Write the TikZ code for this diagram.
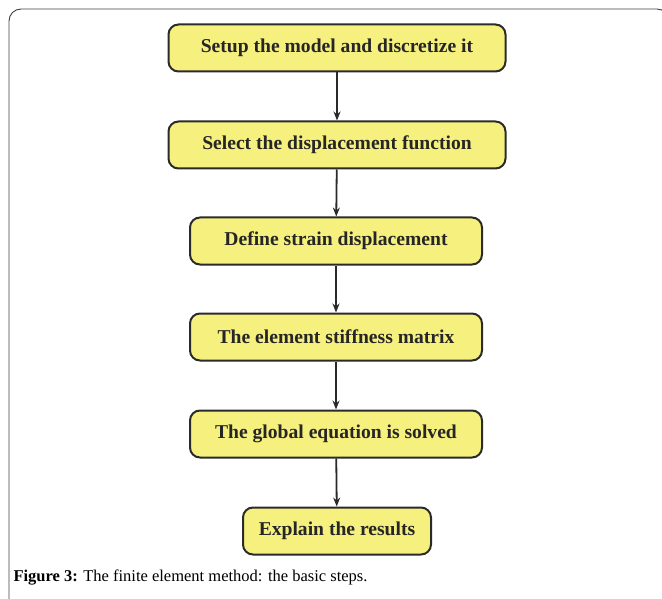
\documentclass[tikz,border=0pt]{standalone}
\usepackage{fontspec}
\setmainfont{Liberation Serif}
\usepackage{tikz}
\usepackage{xcolor}
\usetikzlibrary{arrows.meta}
\definecolor{boxfill}{HTML}{F6F07E}
\definecolor{boxline}{HTML}{2A2A2A}

\begin{document}
\begin{tikzpicture}[x=1pt,y=-1pt,
  stepbox/.style={draw=boxline,line width=2pt,rounded corners=10pt,fill=boxfill,
    minimum height=47pt,font=\fontsize{19.6}{21}\selectfont\bfseries,text=black!85},
  flow/.style={-{Stealth[length=9pt,width=7pt]},line width=1.8pt,draw=boxline}]
\useasboundingbox (0,0) rectangle (662,599);
\draw[line width=0.9pt,draw=black!75,rounded corners=12pt] (9,640) -- (9,9) -- (669,9) -- (669,640);
\node[stepbox,minimum width=337pt] (setup) at (337,48) {Setup the model and discretize it};
\node[stepbox,minimum width=337pt] (select) at (337,145) {Select the displacement function};
\node[stepbox,minimum width=292pt] (strain) at (336,241) {Define strain displacement};
\node[stepbox,minimum width=292pt] (stiff) at (336,337) {The element stiffness matrix};
\node[stepbox,minimum width=292pt] (global) at (336,434) {The global equation is solved};
\node[stepbox,minimum width=188pt] (results) at (337,531) {Explain the results};
\draw[flow] (setup) -- (select);
\draw[flow] (select) -- (strain);
\draw[flow] (strain) -- (stiff);
\draw[flow] (stiff) -- (global);
\draw[flow] (global) -- (results);
\node[anchor=west,font=\fontsize{16.5}{18}\selectfont] (cap) at (10,578) {\textbf{Figure 3:} The finite element method: the basic steps.};
\end{tikzpicture}
\end{document}
